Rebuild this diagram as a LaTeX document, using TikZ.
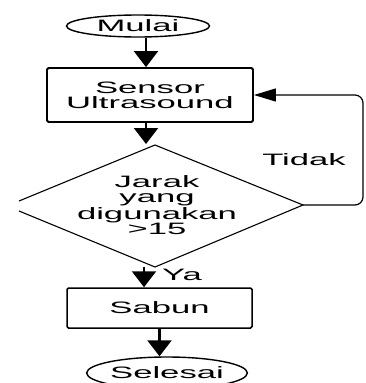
\documentclass[tikz,border=0pt]{standalone}
\usepackage{fontspec}
\newfontfamily\lab[FakeStretch=2.1]{Liberation Sans}
\usetikzlibrary{shapes.geometric,arrows.meta}
\begin{document}
\begin{tikzpicture}[x=1pt,y=1pt,
  txt/.style={font=\lab\fontsize{16.5}{15.3}\selectfont, align=center, inner sep=0pt},
  term/.style={txt, draw, ellipse, line width=1.4pt, inner sep=0pt},
  proc/.style={txt, draw, rectangle, line width=1.8pt, rounded corners=1.5pt},
  varr/.style={line width=2.2pt, -{Triangle[length=16pt,width=24pt]}},
  harr/.style={line width=1.2pt, rounded corners=8pt, -{Triangle[length=22pt,width=13pt]}}]
\useasboundingbox (0,0) rectangle (365,-383);
\clip (0,0) rectangle (365,-383);
% nodes
\node[term, minimum width=143pt, minimum height=22pt] (start) at (138,-26) {Mulai};
\node[proc, minimum width=206pt, minimum height=54pt] (sensor) at (150,-95) {Sensor\\Ultrasound};
\node[txt] (dec) at (157,-205) {Jarak\\yang\\digunakan\\>15};
\node[proc, line width=1.5pt, minimum width=185pt, minimum height=40pt] (sabun) at (159.5,-308) {Sabun};
\node[term, minimum width=120pt, minimum height=32pt] (end) at (167,-373) {Selesai};
\node[txt] (tidak) at (304,-160) {Tidak};
\node[txt] (ya) at (182,-275) {Ya};
% diamond outline (left tip open)
\coordinate (dt) at (155,-145);
\coordinate (dr) at (303,-205);
\coordinate (db) at (155,-267);
\coordinate (dl1) at (19,-201);
\coordinate (dl2) at (19,-211);
\draw[line width=1.1pt] (dl1) -- (dt) -- (dr) -- (db) -- (dl2);
% connectors
\draw[varr] ([xshift=8pt]start.south) -- ([xshift=8pt]start.south |- sensor.north);
\draw[varr] ([xshift=-4pt]sensor.south) -- ([xshift=-4pt,yshift=1pt]sensor.south |- dt);
\draw[varr] ([xshift=-11pt]db) -- ([xshift=-11pt]db |- sabun.north);
\draw[varr] (sabun.south) -- (sabun.south |- end.north);
\draw[harr] (dr) -- ++(60,0) |- (sensor.east);
\end{tikzpicture}
\end{document}
